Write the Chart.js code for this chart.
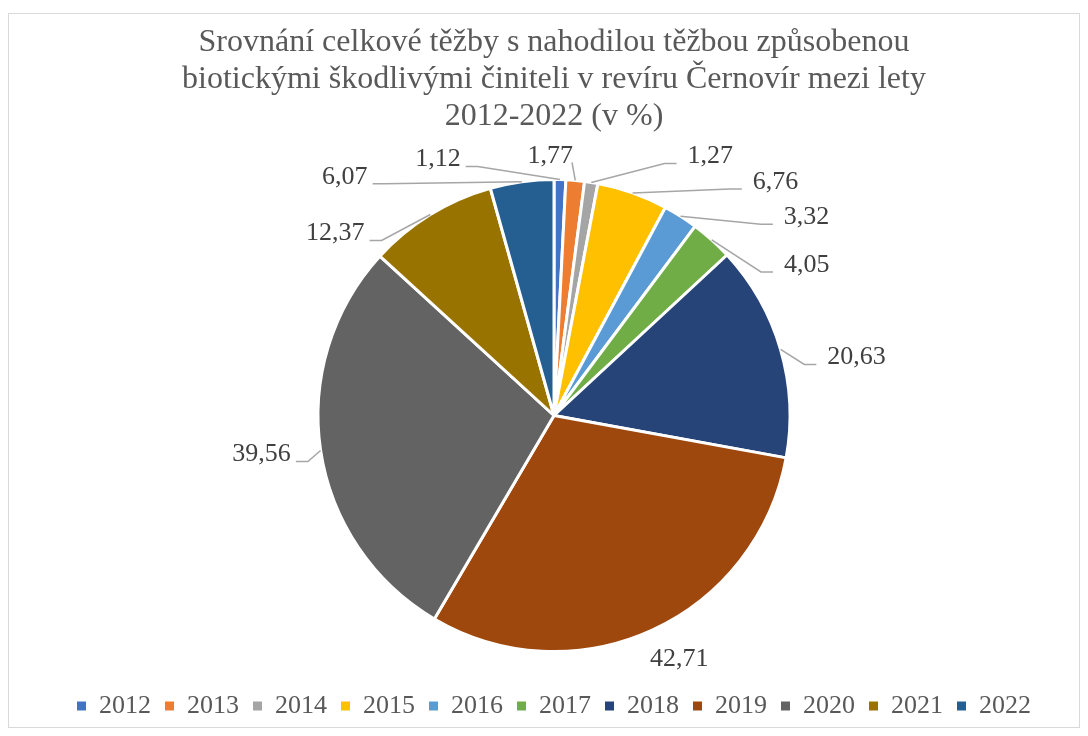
<!DOCTYPE html>
<html>
<head>
<meta charset="utf-8">
<script src="https://cdn.jsdelivr.net/npm/chart.js@4.4.0/dist/chart.umd.min.js"></script>
<style>
  html, body { margin: 0; padding: 0; background: #fff; }
  #wrap { width: 1088px; height: 736px; }
</style>
</head>
<body>
<div id="wrap"><canvas id="pieChart" width="1088" height="736"></canvas></div>
<script>
let years = ['2012', '2013', '2014', '2015', '2016', '2017', '2018', '2019', '2020', '2021', '2022'];
let shares = [1.12, 1.77, 1.27, 6.76, 3.32, 4.05, 20.63, 42.71, 39.56, 12.37, 6.07];
let sliceColors = ['#4472C4', '#ED7D31', '#A5A5A5', '#FFC000', '#5B9BD5', '#70AD47',
                   '#264478', '#9E480E', '#636363', '#997300', '#255E91'];
let titleLines = [
    'Srovnání celkové těžby s nahodilou těžbou způsobenou',
    'biotickými škodlivými činiteli v revíru Černovír mezi lety',
    '2012-2022 (v %)'
];

// where each value label sits, measured from the outer middle of its slice
let labelOffsets = [
    [-122, -20, 'left'],
    [-25, -24, 'up'],
    [119, -26, 'right'],
    [143, -11, 'right'],
    [126, 1, 'right'],
    [95, 25, 'right'],
    [76, 8, 'right'],
    [27, 29, 'none'],
    [-59, 4, 'left'],
    [-95, 19, 'left'],
    [-177, -5, 'left']
];

const serif = "'Liberation Serif', 'Times New Roman', serif";

const frame = {
    id: 'frame',
    beforeDraw(chart) {
        const ctx = chart.ctx;
        ctx.save();
        ctx.fillStyle = '#fff';
        ctx.fillRect(0, 0, chart.width, chart.height);
        ctx.strokeStyle = '#D9D9D9';
        ctx.lineWidth = 1;
        ctx.strokeRect(8.5, 13.5, 1071, 714);
        ctx.restore();
    }
};

const valueLabels = {
    id: 'valueLabels',
    afterDatasetsDraw(chart) {
        const ctx = chart.ctx;
        const arcs = chart.getDatasetMeta(0).data;
        ctx.save();
        ctx.font = '26px ' + serif;
        ctx.textAlign = 'center';
        ctx.textBaseline = 'middle';
        for (let i = 0; i < arcs.length; i++) {
            const p = arcs[i].getProps(['x', 'y', 'startAngle', 'endAngle', 'outerRadius'], true);
            const mid = (p.startAngle + p.endAngle) / 2;
            const ex = p.x + Math.cos(mid) * p.outerRadius;
            const ey = p.y + Math.sin(mid) * p.outerRadius;
            const off = labelOffsets[i];
            const tx = ex + off[0];
            const ty = ey + off[1];
            const text = shares[i].toFixed(2).replace('.', ',');
            const w = ctx.measureText(text).width;

            ctx.strokeStyle = '#A6A6A6';
            ctx.lineWidth = 1.5;
            ctx.beginPath();
            if (off[2] === 'left') {
                const endX = tx + w / 2 + 5;
                const endY = ty + 7;
                ctx.moveTo(ex, ey);
                ctx.lineTo(endX + 12, endY);
                ctx.lineTo(endX, endY);
            } else if (off[2] === 'right') {
                const endX = tx - w / 2 - 11;
                const endY = ty + 7;
                ctx.moveTo(ex, ey);
                ctx.lineTo(endX - 12, endY);
                ctx.lineTo(endX, endY);
            } else if (off[2] === 'up') {
                ctx.moveTo(ex, ey);
                ctx.lineTo(tx + w / 2 - 1, ty + 6);
            }
            ctx.stroke();

            ctx.fillStyle = '#404040';
            ctx.fillText(text, tx, ty);
        }
        ctx.restore();
    }
};

let ctxPie = document.getElementById('pieChart').getContext('2d');

let myPieChart = new Chart(ctxPie, {
    type: 'pie',
    data: {
        labels: years,
        datasets: [{
            data: shares,
            backgroundColor: sliceColors,
            borderColor: '#fff',
            borderWidth: 3,
            radius: 236
        }]
    },
    options: {
        responsive: false,
        animation: false,
        events: [],
        layout: {
            padding: { top: 14, bottom: 7, left: 20, right: 0 }
        },
        plugins: {
            tooltip: { enabled: false },
            title: {
                display: true,
                text: titleLines,
                color: '#595959',
                font: { family: serif, size: 32, weight: 'normal', lineHeight: '37px' },
                padding: { top: 10, bottom: 17 }
            },
            legend: {
                position: 'bottom',
                labels: {
                    boxWidth: 9,
                    boxHeight: 9,
                    padding: 14,
                    color: '#595959',
                    font: { family: serif, size: 26 },
                    generateLabels: function (chart) {
                        let items = Chart.overrides.doughnut.plugins.legend.labels.generateLabels(chart);
                        items.forEach(function (it) {
                            it.lineWidth = 0;
                            it.strokeStyle = it.fillStyle;
                        });
                        return items;
                    }
                }
            }
        }
    },
    plugins: [frame, valueLabels]
});
</script>
</body>
</html>
